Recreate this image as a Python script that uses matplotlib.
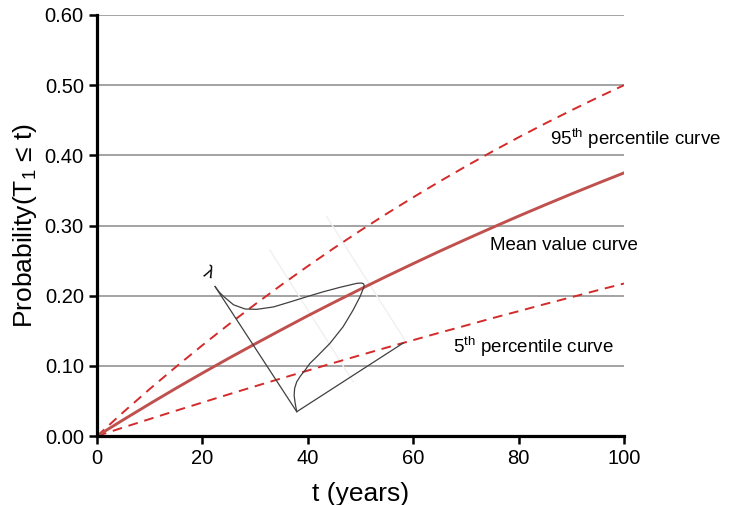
import matplotlib
matplotlib.use('Agg')
from matplotlib import pyplot as plt

plt.rcParams['font.family'] = ['Liberation Sans', 'DejaVu Sans']
plt.rcParams['mathtext.fontset'] = 'custom'
plt.rcParams['mathtext.rm'] = 'Liberation Sans'
plt.rcParams['mathtext.it'] = 'Liberation Sans:italic'

# time axis (years) and probability curves
t = [0, 5, 10, 15, 20, 25, 30, 35, 40, 45, 50,
     55, 60, 65, 70, 75, 80, 85, 90, 95, 100]
mean_curve = [0.0, 0.0232, 0.0459, 0.0681, 0.0897, 0.1108, 0.1313, 0.1515,
              0.1714, 0.1906, 0.2094, 0.2278, 0.2457, 0.2633, 0.2803, 0.2970,
              0.3134, 0.3293, 0.3449, 0.3601, 0.3750]
p95_curve = [0.0, 0.0341, 0.0670, 0.0987, 0.1294, 0.1591, 0.1877, 0.2154,
             0.2421, 0.2680, 0.2929, 0.3170, 0.3402, 0.3627, 0.3844, 0.4054,
             0.4257, 0.4452, 0.4641, 0.4824, 0.5000]
p05_curve = [0.0, 0.0122, 0.0242, 0.0361, 0.0478, 0.0594, 0.0709, 0.0822,
             0.0933, 0.1044, 0.1153, 0.1261, 0.1367, 0.1472, 0.1575, 0.1679,
             0.1779, 0.1880, 0.1978, 0.2077, 0.2173]

xticks = [0, 20, 40, 60, 80, 100]
yticks = [0.0, 0.1, 0.2, 0.3, 0.4, 0.5, 0.6]

# sketch of the lambda distribution across the band
pdf_x = [22.4, 23.2, 24.0, 25.9, 28.1, 30.3, 33.5, 36.6, 39.8, 43.0, 46.1,
         49.3, 50.2, 50.6, 50.7, 50.3, 49.9, 48.6, 46.7, 44.2, 41.7, 40.4,
         39.5, 38.6, 37.9, 37.5, 37.4, 37.6, 37.9]
pdf_y = [0.213, 0.205, 0.199, 0.187, 0.181, 0.1805, 0.184, 0.191, 0.1985,
         0.2057, 0.2119, 0.2176, 0.218, 0.2168, 0.2135, 0.206, 0.1985, 0.1796,
         0.1558, 0.1321, 0.113, 0.1035, 0.0941, 0.0855, 0.0774, 0.068, 0.058,
         0.0466, 0.0346]
frame_x = [22.4, 37.9, 58.1]
frame_y = [0.213, 0.0346, 0.1325]
guide1_x = [32.8, 48.6]
guide1_y = [0.265, 0.0774]
guide2_x = [43.6, 58.8]
guide2_y = [0.3125, 0.132]

fig = plt.figure(figsize=(7.39, 5.05), dpi=100)
ax = fig.add_axes([0.1313, 0.1366, 0.7131, 0.8337])

for y in yticks[1:]:
    ax.axhline(y, color='#a3a3a3', lw=1.4, zorder=1)

ax.plot(guide1_x, guide1_y, color='#f0f0f0', lw=1, zorder=2)
ax.plot(guide2_x, guide2_y, color='#f0f0f0', lw=1, zorder=2)

ax.plot(t, p95_curve, color='#d42a2a', lw=1.4, ls=(0, (5, 3.5)), zorder=3)
ax.plot(t, p05_curve, color='#d42a2a', lw=1.4, ls=(0, (5, 3.5)), zorder=3)
ax.plot(t, mean_curve, color='#c0504d', lw=2.1, zorder=4)

ax.plot(frame_x, frame_y, color='#404040', lw=0.9, zorder=5)
ax.plot(pdf_x, pdf_y, color='#404040', lw=0.9, zorder=5)
ax.text(21.2, 0.232, r'$\lambda$', fontsize=13, ha='center', va='center',
        rotation=-15)

ax.text(86, 0.424, r'95$^{\rm th}$ percentile curve', fontsize=13.5,
        ha='left', va='center')
ax.text(74.5, 0.272, 'Mean value curve', fontsize=13.5, ha='left', va='center')
ax.text(67.5, 0.127, r'5$^{\rm th}$ percentile curve', fontsize=13.5,
        ha='left', va='center')

ax.set_xlim(0, 100)
ax.set_ylim(0, 0.6)
ax.set_xticks(xticks)
ax.set_yticks(yticks)
ax.set_yticklabels(['%.2f' % v for v in yticks])
ax.tick_params(labelsize=14.5, width=1.8, length=5.5, color='black', pad=4)

for side in ['top', 'right']:
    ax.spines[side].set_visible(False)
for side in ['left', 'bottom']:
    ax.spines[side].set_linewidth(2.3)
    ax.spines[side].set_zorder(6)

ax.set_xlabel('t (years)', fontsize=19, labelpad=10)
ax.set_ylabel(r'Probability(T$_{\rm 1}$ ≤ t)', fontsize=19, labelpad=4)

plt.savefig('out.png', dpi=100)
plt.close()
